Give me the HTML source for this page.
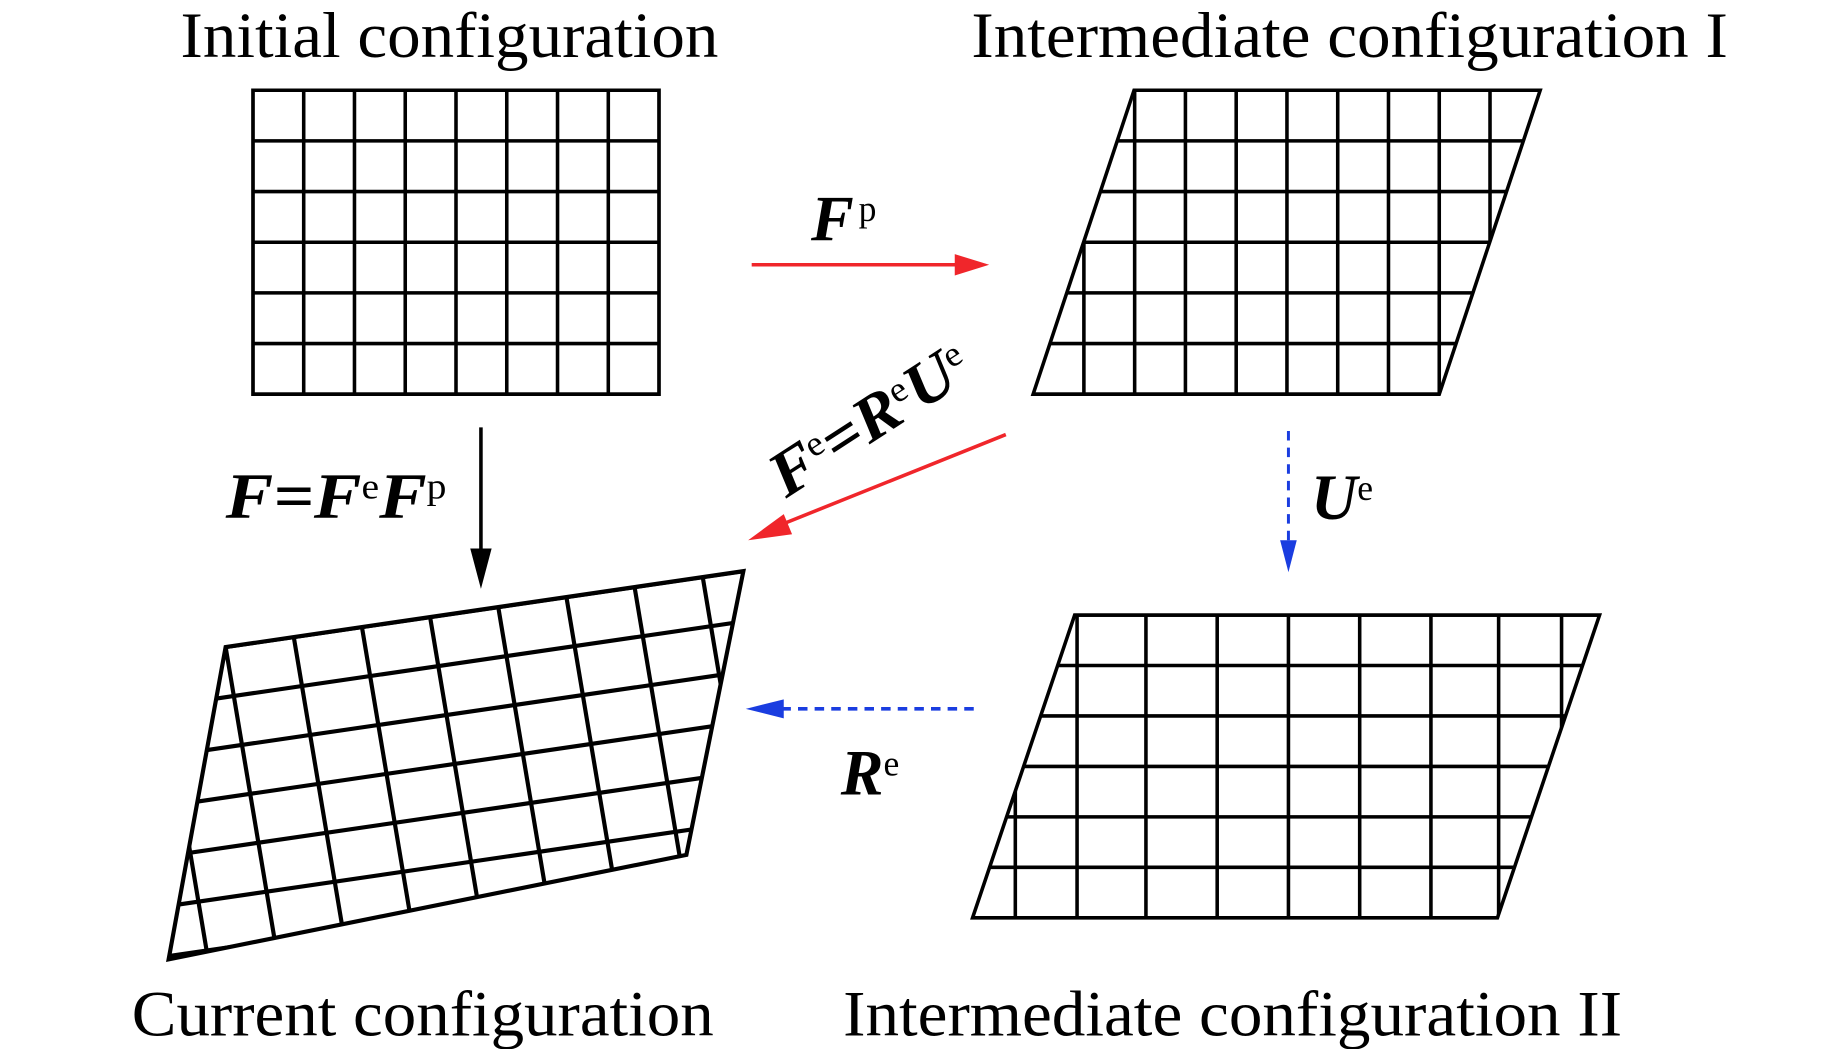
<!DOCTYPE html>
<html><head><meta charset="utf-8"><style>
html,body{margin:0;padding:0;background:#fff;overflow:hidden;width:1843px;height:1049px;}
svg{display:block;}
text{font-family:"Liberation Serif",serif;}
.t{font-size:54px;}
.m{font-size:54px;font-weight:bold;font-style:italic;}
.s{font-size:30px;font-weight:normal;font-style:normal;}
</style></head><body>
<svg id="S" width="1843" height="1049" viewBox="0 0 1552 883.5" preserveAspectRatio="none" xmlns="http://www.w3.org/2000/svg">
<defs>
<clipPath id="c1"><polygon points="213,76 555,76 555,332 213,332"/></clipPath>
<clipPath id="c2"><polygon points="955,76 1297,76 1212,332 870,332"/></clipPath>
<clipPath id="c3"><polygon points="905,518 1347,518 1261,773 819,773"/></clipPath>
<clipPath id="c4"><polygon points="190,545 626,481 578,720 142,808"/></clipPath>
</defs>
<g id="G" fill="none" stroke="#000" stroke-width="3"></g>

<text class="t" x="152" y="48" textLength="453" lengthAdjust="spacingAndGlyphs">Initial configuration</text>
<text class="t" x="818" y="48" textLength="637" lengthAdjust="spacingAndGlyphs">Intermediate configuration I</text>
<text class="t" x="111" y="872" textLength="490" lengthAdjust="spacingAndGlyphs">Current configuration</text>
<text class="t" x="710" y="872" textLength="656" lengthAdjust="spacingAndGlyphs">Intermediate configuration II</text>

<line x1="633" y1="223" x2="808" y2="223" stroke="#f0262b" stroke-width="3"/>
<polygon points="833,223 804,214 804,232" fill="#f0262b"/>
<text class="m" x="683" y="202">F<tspan class="s" dx="4" dy="-16">p</tspan></text>

<line x1="405" y1="360" x2="405" y2="465" stroke="#000" stroke-width="3"/>
<polygon points="405,496 396,462 414,462" fill="#000"/>
<text class="m" x="190" y="436" textLength="186" lengthAdjust="spacingAndGlyphs">F=F<tspan class="s" dy="-16">e</tspan><tspan dy="16">F</tspan><tspan class="s" dy="-16">p</tspan></text>

<line x1="847" y1="366" x2="655" y2="443" stroke="#f0262b" stroke-width="3"/>
<polygon points="630,455 660,433 667,450" fill="#f0262b"/>
<text class="m" transform="translate(662,420) rotate(-33)" x="0" y="0" textLength="190" lengthAdjust="spacingAndGlyphs">F<tspan class="s" dy="-16">e</tspan><tspan dy="16">=R</tspan><tspan class="s" dy="-16">e</tspan><tspan dy="16">U</tspan><tspan class="s" dy="-16">e</tspan></text>

<line x1="1085" y1="363" x2="1085" y2="455" stroke="#1a3de0" stroke-width="2.5" stroke-dasharray="8,6"/>
<polygon points="1085,482 1078,455 1092,455" fill="#1a3de0"/>
<text class="m" x="1104" y="437">U<tspan class="s" dy="-16">e</tspan></text>

<line x1="820" y1="597" x2="655" y2="597" stroke="#1a3de0" stroke-width="3" stroke-dasharray="8,6"/>
<polygon points="628,597 660,589 660,605" fill="#1a3de0"/>
<text class="m" x="708" y="669">R<tspan class="s" dy="-16">e</tspan></text>
</svg>
<script>
(function(){
var NS="http://www.w3.org/2000/svg",G=document.getElementById("G");
function el(n,a,p){var e=document.createElementNS(NS,n);for(var k in a)e.setAttribute(k,a[k]);(p||G).appendChild(e);return e;}
function grp(clip,sw){return el("g",{"clip-path":"url(#"+clip+")","stroke-width":sw});}
var g=grp("c1",3);
for(var i=0;i<=8;i++){var x=213+i*42.75;el("line",{x1:x,y1:70,x2:x,y2:340},g);}
for(var j=0;j<=6;j++){var y=76+j*42.67;el("line",{x1:205,y1:y,x2:565,y2:y},g);}
el("polygon",{points:"213,76 555,76 555,332 213,332"});
g=grp("c2",3);
for(var i=0;i<=10;i++){var x=870+i*42.75;el("line",{x1:x,y1:70,x2:x,y2:340},g);}
for(var j=0;j<=6;j++){var y=76+j*42.67;el("line",{x1:860,y1:y,x2:1310,y2:y},g);}
el("polygon",{points:"955,76 1297,76 1212,332 870,332"});
g=grp("c3",3);
var xs=[855,907,965,1025,1085,1145,1205,1262,1315];
xs.forEach(function(x){el("line",{x1:x,y1:510,x2:x,y2:780},g);});
for(var j=0;j<=6;j++){var y=518+j*42.5;el("line",{x1:810,y1:y,x2:1360,y2:y},g);}
el("polygon",{points:"905,518 1347,518 1261,773 819,773"});
g=grp("c4",3.5);
var A=[190,545],u=[57.4,-8.4],v=[6.9,41.2];
for(var j=-1;j<=8;j++){var p=[A[0]+j*v[0],A[1]+j*v[1]];
 el("line",{x1:p[0]-3*u[0],y1:p[1]-3*u[1],x2:p[0]+11*u[0],y2:p[1]+11*u[1]},g);}
for(var i=-3;i<=10;i++){var p=[A[0]+i*u[0],A[1]+i*u[1]];
 el("line",{x1:p[0]-2*v[0],y1:p[1]-2*v[1],x2:p[0]+9*v[0],y2:p[1]+9*v[1]},g);}
el("polygon",{points:"190,545 626,481 578,720 142,808","stroke-width":3.5});
})();
</script>
</body></html>
